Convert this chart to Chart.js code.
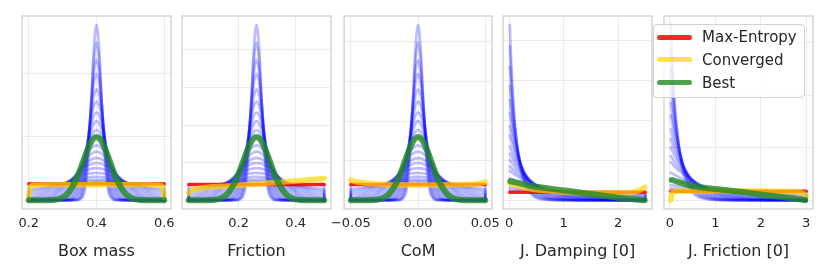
<!DOCTYPE html>
<html><head><meta charset="utf-8">
<script src="https://cdn.jsdelivr.net/npm/chart.js@4/dist/chart.umd.min.js"></script>
<style>
html,body{margin:0;padding:0;background:#fff;width:830px;height:277px;overflow:hidden;font-family:"DejaVu Sans",sans-serif;}
canvas{position:absolute;top:0;}
#legend{position:absolute;left:653px;top:24px;width:152px;height:74px;box-sizing:border-box;border:1px solid #d0d0d0;border-radius:4px;background:rgba(255,255,255,0.8);}
#legend .sw{position:absolute;left:3px;width:35px;height:5px;border-radius:3px;}
#legend .tx{position:absolute;left:48px;font-size:15px;line-height:18px;color:#262626;white-space:nowrap;}
</style></head>
<body>
<canvas id="c0" width="189" height="277" style="left:2px;width:189px;height:277px"></canvas>
<canvas id="c1" width="189" height="277" style="left:162px;width:189px;height:277px"></canvas>
<canvas id="c2" width="189" height="277" style="left:323px;width:189px;height:277px"></canvas>
<canvas id="c3" width="189" height="277" style="left:483px;width:189px;height:277px"></canvas>
<canvas id="c4" width="189" height="277" style="left:644px;width:189px;height:277px"></canvas>
<div id="legend"></div>
<script>
// ---------------- DATA ----------------
const panelTitles = ["Box mass", "Friction", "CoM", "J. Damping [0]", "J. Friction [0]"];
const seriesNames = ["Max-Entropy", "Converged", "Best"];

// x tick values / labels
const boxMassTicks = [0.2, 0.4, 0.6];      const boxMassTickLabels = ["0.2", "0.4", "0.6"];
const frictionTicks = [0.2, 0.4];          const frictionTickLabels = ["0.2", "0.4"];
const comTicks = [-0.05, 0, 0.05];         const comTickLabels = ["\u22120.05", "0.00", "0.05"];
const dampTicks = [0, 1, 2];               const dampTickLabels = ["0", "1", "2"];
const jfricTicks = [0, 1, 2, 3];           const jfricTickLabels = ["0", "1", "2", "3"];

// y grid values (no labels shown). First three panels use density x parameter range.
const boxMassGridY = [0, 4, 8];
const frictionGridY = [0, 2.375, 4.75, 7.125, 9.5];
const comGridY = [0, 2.5, 5, 7.5, 10];
const dampGridY = [0, 2, 4, 6, 8];
const jfricGridY = [0, 2, 4, 6];

// sample positions of the blue density curves
const boxMassX = [0.2,0.2,0.272,0.312,0.34,0.36,0.372,0.384,0.392,0.4,0.408,0.416,0.428,0.44,0.46,0.488,0.528,0.6,0.6];
const frictionX = [0.025,0.025,0.1105,0.158,0.19125,0.215,0.22925,0.2435,0.253,0.2625,0.272,0.2815,0.29575,0.31,0.33375,0.367,0.4145,0.5,0.5];
const comX = [-0.05,-0.05,-0.032,-0.022,-0.015,-0.01,-0.007,-0.004,-0.002,0,0.002,0.004,0.007,0.01,0.015,0.022,0.032,0.05,0.05];
const dampX = [0.01,0.04,0.08,0.13,0.21,0.31,0.46,0.66,0.91,1.21,1.61,2.01,2.5,2.5];
const jfricX = [0.02,0.05,0.09,0.14,0.22,0.32,0.47,0.67,0.92,1.22,1.62,2.02,2.52,3.0,3.0];

// blue iterate densities for the centred parameters (same shape in Box mass, Friction, CoM)
const centredCurves = [
 [0,1,1,1,1,1,1,1,1,1,1,1,1,1,1,1,1,1,0],
 [0,0.71,0.95,1.06,1.12,1.15,1.16,1.17,1.17,1.17,1.17,1.17,1.16,1.15,1.12,1.06,0.95,0.71,0],
 [0,0.54,0.91,1.09,1.20,1.25,1.27,1.29,1.29,1.29,1.29,1.29,1.27,1.25,1.20,1.09,0.91,0.54,0],
 [0,0.37,0.83,1.12,1.30,1.39,1.43,1.46,1.47,1.47,1.47,1.46,1.43,1.39,1.30,1.12,0.83,0.37,0],
 [0,0.20,0.71,1.13,1.42,1.58,1.65,1.70,1.72,1.73,1.72,1.70,1.65,1.58,1.42,1.13,0.71,0.20,0],
 [0,0.09,0.56,1.10,1.53,1.78,1.90,1.98,2.01,2.02,2.01,1.98,1.90,1.78,1.53,1.10,0.56,0.09,0],
 [0,0.03,0.40,1.02,1.60,1.98,2.16,2.29,2.34,2.35,2.34,2.29,2.16,1.98,1.60,1.02,0.40,0.03,0],
 [0,0.01,0.27,0.91,1.61,2.13,2.39,2.57,2.64,2.66,2.64,2.57,2.39,2.13,1.61,0.91,0.27,0.01,0],
 [0,0,0.15,0.73,1.58,2.28,2.65,2.93,3.03,3.07,3.03,2.93,2.65,2.28,1.58,0.73,0.15,0,0],
 [0,0,0.07,0.56,1.48,2.38,2.88,3.26,3.42,3.47,3.42,3.26,2.88,2.38,1.48,0.56,0.07,0,0],
 [0,0,0.02,0.35,1.30,2.42,3.12,3.68,3.91,3.99,3.91,3.68,3.12,2.42,1.30,0.35,0.02,0,0],
 [0,0,0.01,0.22,1.10,2.39,3.28,4.01,4.32,4.43,4.32,4.01,3.28,2.39,1.10,0.22,0.01,0,0],
 [0,0,0,0.11,0.86,2.28,3.40,4.40,4.83,4.99,4.83,4.40,3.40,2.28,0.86,0.11,0,0,0],
 [0,0,0,0.05,0.63,2.11,3.45,4.75,5.33,5.54,5.33,4.75,3.45,2.11,0.63,0.05,0,0,0],
 [0,0,0,0.02,0.40,1.84,3.43,5.13,5.94,6.23,5.94,5.13,3.43,1.84,0.40,0.02,0,0,0],
 [0,0,0,0,0.22,1.50,3.29,5.47,6.58,7.00,6.58,5.47,3.29,1.50,0.22,0,0,0,0],
 [0,0,0,0,0.09,1.08,2.99,5.79,7.37,7.98,7.37,5.79,2.99,1.08,0.09,0,0,0,0],
 [0,0,0,0,0.03,0.75,2.64,5.98,8.03,8.87,8.03,5.98,2.64,0.75,0.03,0,0,0,0],
 [0,0,0,0,0.01,0.44,2.16,6.05,8.80,9.97,8.80,6.05,2.16,0.44,0.01,0,0,0,0],
 [0,0,0,0,0,0.23,1.67,5.97,9.50,11.08,9.50,5.97,1.67,0.23,0,0,0,0,0]
];
const centredBest = [0,0,0.02,0.35,1.30,2.42,3.12,3.68,3.91,3.99,3.91,3.68,3.12,2.42,1.30,0.35,0.02,0,0];

const dampCurves = [
 [8.77,6.74,4.75,3.06,1.52,0.63,0.17,0.03,0,0,0,0,0,0],
 [7.69,6.11,4.49,3.06,1.65,0.77,0.24,0.05,0.01,0,0,0,0,0],
 [6.67,5.46,4.18,3.00,1.76,0.90,0.33,0.09,0.02,0,0,0,0,0],
 [5.71,4.81,3.83,2.88,1.82,1.03,0.44,0.14,0.03,0.01,0,0,0,0],
 [5.00,4.30,3.52,2.74,1.84,1.12,0.53,0.19,0.06,0.01,0,0,0,0],
 [4.35,3.82,3.21,2.58,1.82,1.18,0.62,0.26,0.09,0.02,0,0,0,0],
 [3.70,3.31,2.86,2.37,1.76,1.22,0.70,0.33,0.13,0.04,0.01,0,0,0],
 [3.23,2.93,2.58,2.19,1.69,1.23,0.76,0.40,0.18,0.07,0.02,0.01,0,0],
 [2.70,2.49,2.24,1.95,1.57,1.20,0.80,0.47,0.24,0.11,0.04,0.01,0,0],
 [2.33,2.18,1.98,1.76,1.47,1.16,0.82,0.51,0.29,0.14,0.06,0.02,0.01,0],
 [2.01,1.90,1.75,1.58,1.35,1.11,0.82,0.55,0.33,0.18,0.08,0.04,0.01,0],
 [1.69,1.61,1.51,1.39,1.21,1.03,0.80,0.57,0.38,0.23,0.12,0.06,0.03,0],
 [1.47,1.41,1.33,1.24,1.10,0.96,0.77,0.58,0.41,0.26,0.15,0.08,0.04,0],
 [1.09,1.06,1.02,0.97,0.89,0.81,0.70,0.57,0.44,0.33,0.22,0.15,0.09,0],
 [0.82,0.81,0.79,0.76,0.72,0.67,0.61,0.53,0.45,0.37,0.28,0.22,0.16,0],
 [0.63,0.63,0.62,0.60,0.59,0.56,0.53,0.49,0.44,0.39,0.33,0.28,0.23,0],
 [0.51,0.51,0.50,0.50,0.49,0.48,0.47,0.45,0.43,0.40,0.37,0.34,0.31,0],
 [0.40,0.40,0.40,0.40,0.40,0.40,0.40,0.40,0.40,0.40,0.40,0.40,0.40,0]
];
const jfricCurves = [
 [6.67,5.46,4.18,3.00,1.76,0.90,0.33,0.09,0.02,0,0,0,0,0,0],
 [5.71,4.81,3.83,2.88,1.82,1.03,0.44,0.14,0.03,0.01,0,0,0,0,0],
 [5.00,4.30,3.52,2.74,1.84,1.12,0.53,0.19,0.06,0.01,0,0,0,0,0],
 [4.35,3.82,3.21,2.58,1.82,1.18,0.62,0.26,0.09,0.02,0,0,0,0,0],
 [3.70,3.31,2.86,2.37,1.76,1.22,0.70,0.33,0.13,0.04,0.01,0,0,0,0],
 [3.23,2.93,2.58,2.19,1.69,1.23,0.76,0.40,0.18,0.07,0.02,0.01,0,0,0],
 [2.70,2.49,2.24,1.95,1.57,1.20,0.80,0.47,0.24,0.11,0.04,0.01,0,0,0],
 [2.33,2.17,1.98,1.76,1.46,1.16,0.82,0.51,0.29,0.14,0.06,0.02,0.01,0,0],
 [2.01,1.89,1.74,1.58,1.34,1.10,0.82,0.55,0.33,0.18,0.08,0.04,0.01,0.01,0],
 [1.68,1.60,1.49,1.37,1.20,1.02,0.79,0.57,0.37,0.23,0.12,0.06,0.03,0.01,0],
 [1.45,1.39,1.31,1.22,1.09,0.94,0.76,0.57,0.40,0.26,0.15,0.08,0.04,0.02,0],
 [1.05,1.02,0.98,0.93,0.86,0.78,0.67,0.55,0.43,0.32,0.21,0.14,0.09,0.05,0],
 [0.77,0.76,0.74,0.71,0.68,0.63,0.57,0.50,0.42,0.35,0.27,0.20,0.15,0.11,0],
 [0.57,0.57,0.56,0.55,0.53,0.51,0.48,0.44,0.40,0.36,0.30,0.26,0.21,0.17,0],
 [0.45,0.44,0.44,0.44,0.43,0.42,0.41,0.39,0.37,0.35,0.32,0.30,0.27,0.25,0],
 [0.34,0.34,0.34,0.34,0.34,0.34,0.34,0.34,0.34,0.34,0.34,0.34,0.34,0.34,0]
];

// Max-Entropy (red)
const boxMassMaxEntX = [0.2, 0.6];     const boxMassMaxEntY = [1.04, 1.04];
const frictionMaxEntX = [0.025, 0.5];  const frictionMaxEntY = [1.0, 1.0];
const comMaxEntX = [-0.05, 0.05];      const comMaxEntY = [1.0, 1.0];
const dampMaxEntX = [0.01, 2.5];       const dampMaxEntY = [0.40, 0.40];
const jfricMaxEntX = [0.02, 3.0];      const jfricMaxEntY = [0.34, 0.34];

// Converged (yellow)
const boxMassConvX = [0.2,0.202,0.206,0.215,0.3,0.4,0.5,0.585,0.594,0.598,0.6];
const boxMassConvY = [0.15,0.55,0.85,0.96,0.98,0.98,0.98,0.96,0.85,0.55,0.15];
const frictionConvX = [0.025,0.0345,0.063,0.1675,0.284,0.4036,0.5];
const frictionConvY = [0.44,0.62,0.76,0.9,1.06,1.22,1.37];
const comConvX = [-0.05,-0.045,-0.03,0,0.03,0.045,0.05];
const comConvY = [1.27,1.15,1.02,0.95,0.99,1.05,1.15];
const dampConvX = [0.01,0.2,0.44,0.75,1.06,1.66,2.1,2.27,2.4,2.49];
const dampConvY = [0.85,0.68,0.55,0.46,0.4,0.35,0.37,0.4,0.5,0.65];
const jfricConvX = [0.02,0.04,0.08,0.3,1.0,2.0,2.7,2.95,3.0];
const jfricConvY = [0.0,0.22,0.31,0.35,0.36,0.35,0.32,0.25,0.15];

// Best (green)
const dampBestX = [0.02,0.25,0.44,0.75,1.06,1.36,1.66,1.97,2.27,2.49];
const dampBestY = [0.95,0.82,0.7,0.58,0.47,0.36,0.25,0.14,0.05,0.0];
const jfricBestX = [0.04,0.5,1.26,1.99,2.71,2.98];
const jfricBestY = [0.77,0.54,0.38,0.22,0.065,0.0];

// ---------------- CHART ----------------
const COL_RED = 'rgba(255,0,0,0.85)';
const COL_YEL = 'rgba(255,215,0,0.7)';
const COL_GRN = 'rgba(34,139,34,0.8)';
const COL_BLUE = 'rgba(0,0,255,0.26)';
const legendColors = [COL_RED, COL_YEL, COL_GRN];

const panels = [
 {blueX: boxMassX, blue: centredCurves, bestX: boxMassX, bestY: centredBest, convX: boxMassConvX, convY: boxMassConvY, maxX: boxMassMaxEntX, maxY: boxMassMaxEntY,
  xMin: 0.18, xMax: 0.62, yMin: -0.554, yMax: 11.634, ticks: boxMassTicks, labels: boxMassTickLabels, gridY: boxMassGridY},
 {blueX: frictionX, blue: centredCurves, bestX: frictionX, bestY: centredBest, convX: frictionConvX, convY: frictionConvY, maxX: frictionMaxEntX, maxY: frictionMaxEntY,
  xMin: 0.00125, xMax: 0.52375, yMin: -0.554, yMax: 11.634, ticks: frictionTicks, labels: frictionTickLabels, gridY: frictionGridY},
 {blueX: comX, blue: centredCurves, bestX: comX, bestY: centredBest, convX: comConvX, convY: comConvY, maxX: comMaxEntX, maxY: comMaxEntY,
  xMin: -0.055, xMax: 0.055, yMin: -0.554, yMax: 11.634, ticks: comTicks, labels: comTickLabels, gridY: comGridY},
 {blueX: dampX, blue: dampCurves, bestX: dampBestX, bestY: dampBestY, convX: dampConvX, convY: dampConvY, maxX: dampMaxEntX, maxY: dampMaxEntY,
  xMin: -0.1145, xMax: 2.6245, yMin: -0.4385, yMax: 9.2085, ticks: dampTicks, labels: dampTickLabels, gridY: dampGridY},
 {blueX: jfricX, blue: jfricCurves, bestX: jfricBestX, bestY: jfricBestY, convX: jfricConvX, convY: jfricConvY, maxX: jfricMaxEntX, maxY: jfricMaxEntY,
  xMin: -0.129, xMax: 3.149, yMin: -0.3335, yMax: 7.0035, ticks: jfricTicks, labels: jfricTickLabels, gridY: jfricGridY}
];

function pts(xs, ys) { return xs.map((x, i) => ({x: x, y: ys[i]})); }

const framePlugin = {
  id: 'frame',
  afterDraw(chart) {
    const {ctx, chartArea: a} = chart;
    ctx.save();
    ctx.strokeStyle = '#cccccc';
    ctx.lineWidth = 1.25;
    ctx.strokeRect(a.left, a.top, a.right - a.left, a.bottom - a.top);
    ctx.restore();
  }
};

Chart.defaults.font.family = "'DejaVu Sans', sans-serif";

panels.forEach((p, idx) => {
  const ds = [];
  ds.push({label: seriesNames[2], data: pts(p.bestX, p.bestY), borderColor: COL_GRN, borderWidth: 6});
  ds.push({label: seriesNames[1], data: pts(p.convX, p.convY), borderColor: COL_YEL, borderWidth: 5.5});
  ds.push({label: seriesNames[0], data: pts(p.maxX, p.maxY), borderColor: COL_RED, borderWidth: 3.5});
  p.blue.forEach((c, k) => ds.push({label: 'iter ' + k, data: pts(p.blueX, c), borderColor: COL_BLUE, borderWidth: 2.7}));

  new Chart(document.getElementById('c' + idx), {
    type: 'line',
    data: {datasets: ds},
    plugins: [framePlugin],
    options: {
      responsive: false,
      animation: false,
      devicePixelRatio: 1,
      layout: {autoPadding: false, padding: {left: 20, right: 20, top: 16, bottom: 0}},
      elements: {
        point: {radius: 0},
        line: {fill: false, cubicInterpolationMode: 'monotone', borderCapStyle: 'round', borderJoinStyle: 'round'}
      },
      plugins: {legend: {display: false}, tooltip: {enabled: false}},
      scales: {
        x: {
          type: 'linear', min: p.xMin, max: p.xMax,
          afterFit: s => { s.height = 68; },
          afterBuildTicks: s => { s.ticks = p.ticks.map(v => ({value: v})); },
          ticks: {callback: (v, i) => p.labels[i], font: {size: 13}, color: '#262626', padding: 7, maxRotation: 0, autoSkip: false},
          grid: {color: '#ebebeb', lineWidth: 1, drawTicks: false},
          border: {display: false},
          title: {display: true, text: panelTitles[idx], font: {size: 16}, color: '#262626', padding: {top: 0, bottom: 16}}
        },
        y: {
          type: 'linear', min: p.yMin, max: p.yMax,
          afterFit: s => { s.width = 0; },
          afterBuildTicks: s => { s.ticks = p.gridY.map(v => ({value: v})); },
          ticks: {display: false},
          grid: {color: '#ebebeb', lineWidth: 1, drawTicks: false},
          border: {display: false}
        }
      }
    }
  });
});

// legend
const lg = document.getElementById('legend');
seriesNames.forEach((name, i) => {
  const cy = 12 + i * 22.8;
  const sw = document.createElement('div');
  sw.className = 'sw'; sw.style.top = (cy - 2.5) + 'px'; sw.style.background = legendColors[i];
  const tx = document.createElement('div');
  tx.className = 'tx'; tx.style.top = (cy - 9) + 'px'; tx.textContent = name;
  lg.appendChild(sw); lg.appendChild(tx);
});
</script>
</body></html>
